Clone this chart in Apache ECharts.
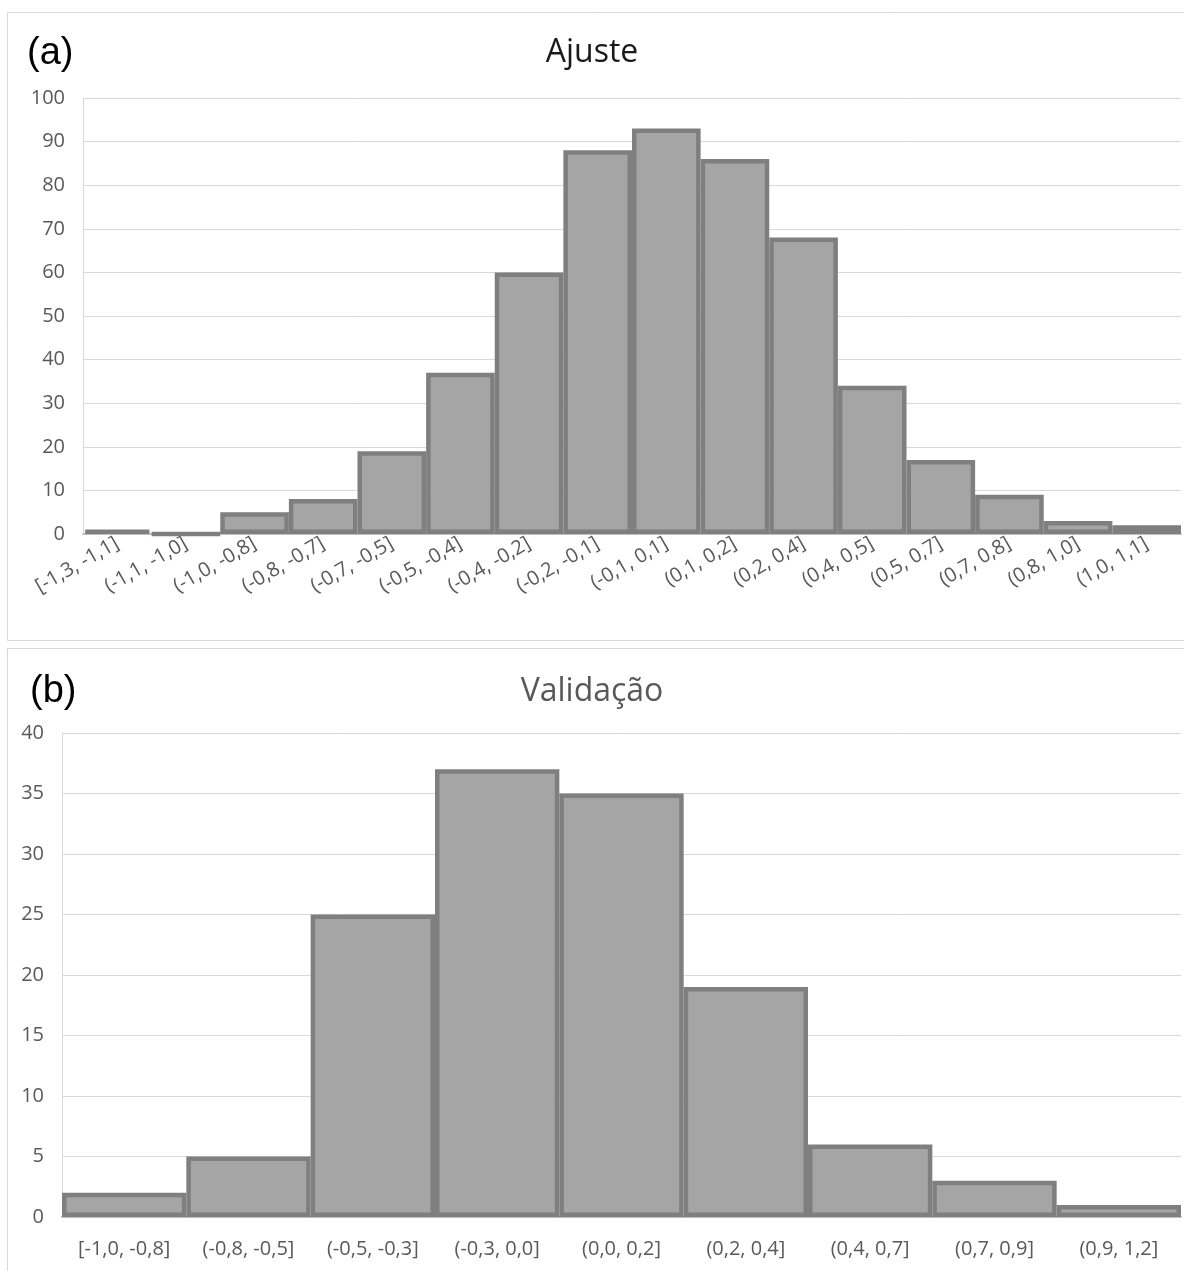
<!DOCTYPE html>
<html><head><meta charset="utf-8">
<script src="https://cdn.jsdelivr.net/npm/echarts@6/dist/echarts.min.js"></script>
<style>html,body{margin:0;padding:0;background:#fff}#c{width:1184px;height:1271px}</style>
</head><body><div id="c"></div>
<script>
const catsA = ['[-1,3, -1,1]','(-1,1, -1,0]','(-1,0, -0,8]','(-0,8, -0,7]','(-0,7, -0,5]','(-0,5, -0,4]','(-0,4, -0,2]','(-0,2, -0,1]','(-0,1, 0,1]','(0,1, 0,2]','(0,2, 0,4]','(0,4, 0,5]','(0,5, 0,7]','(0,7, 0,8]','(0,8, 1,0]','(1,0, 1,1]'];
const valsA = [1, 0, 5, 8, 19, 37, 60, 88, 93, 86, 68, 34, 17, 9, 3, 2];
const catsB = ['[-1,0, -0,8]','(-0,8, -0,5]','(-0,5, -0,3]','(-0,3, 0,0]','(0,0, 0,2]','(0,2, 0,4]','(0,4, 0,7]','(0,7, 0,9]','(0,9, 1,2]'];
const valsB = [2, 5, 25, 37, 35, 19, 6, 3, 1];
const titleA = 'Ajuste', titleB = 'Validação';

const font = 'Open Sans, Noto Sans, sans-serif';
const chart = echarts.init(document.getElementById('c'), null, {renderer:'canvas'});
const axisLabelY = {color:'#595959', fontSize:20, fontFamily:font, margin:18};
const barStyle = {color:'#a5a5a5', borderColor:'#7f7f7f', borderWidth:4.5};
chart.setOption({
  animation:false,
  title:[
    {text:titleA, left:'center', top:32, textStyle:{fontFamily:font, fontSize:32, fontWeight:'normal', color:'#1a1a1a'}},
    {text:titleB, left:'center', top:671, textStyle:{fontFamily:font, fontSize:32, fontWeight:'normal', color:'#595959'}},
    {text:'(a)', left:22, top:30, textStyle:{fontFamily:'Liberation Sans, Arial, sans-serif', fontSize:38, fontWeight:'normal', color:'#000'}},
    {text:'(b)', left:25, top:668, textStyle:{fontFamily:'Liberation Sans, Arial, sans-serif', fontSize:38, fontWeight:'normal', color:'#000'}}
  ],
  graphic:[
    {type:'rect', shape:{x:7.5, y:12.5, width:1180, height:628}, style:{fill:'none', stroke:'#d9d9d9', lineWidth:1}, z:-1},
    {type:'rect', shape:{x:7.5, y:648.5, width:1180, height:630}, style:{fill:'none', stroke:'#d9d9d9', lineWidth:1}, z:-1}
  ],
  grid:[
    {left:83, right:3, top:98, height:436},
    {left:62, right:3, top:733, height:484}
  ],
  xAxis:[
    {type:'category', gridIndex:0, data:catsA, axisTick:{show:false},
     axisLine:{lineStyle:{color:'#bfbfbf', width:2}},
     axisLabel:{interval:0, rotate:30, color:'#595959', fontSize:20, fontFamily:font, margin:8}},
    {type:'category', gridIndex:1, data:catsB, axisTick:{show:false},
     axisLine:{lineStyle:{color:'#bfbfbf', width:2}},
     axisLabel:{interval:0, color:'#595959', fontSize:20, fontFamily:font, margin:22}}
  ],
  yAxis:[
    {type:'value', gridIndex:0, min:0, max:100, interval:10,
     axisLine:{show:true, lineStyle:{color:'#d9d9d9'}}, axisTick:{show:false},
     splitLine:{lineStyle:{color:'#d9d9d9'}}, axisLabel:axisLabelY},
    {type:'value', gridIndex:1, min:0, max:40, interval:5,
     axisLine:{show:true, lineStyle:{color:'#d9d9d9'}}, axisTick:{show:false},
     splitLine:{lineStyle:{color:'#d9d9d9'}}, axisLabel:axisLabelY}
  ],
  series:[
    {type:'bar', xAxisIndex:0, yAxisIndex:0, data:valsA, barCategoryGap:'0%', itemStyle:barStyle},
    {type:'bar', xAxisIndex:1, yAxisIndex:1, data:valsB, barCategoryGap:'0%', itemStyle:barStyle}
  ]
});
</script></body></html>
